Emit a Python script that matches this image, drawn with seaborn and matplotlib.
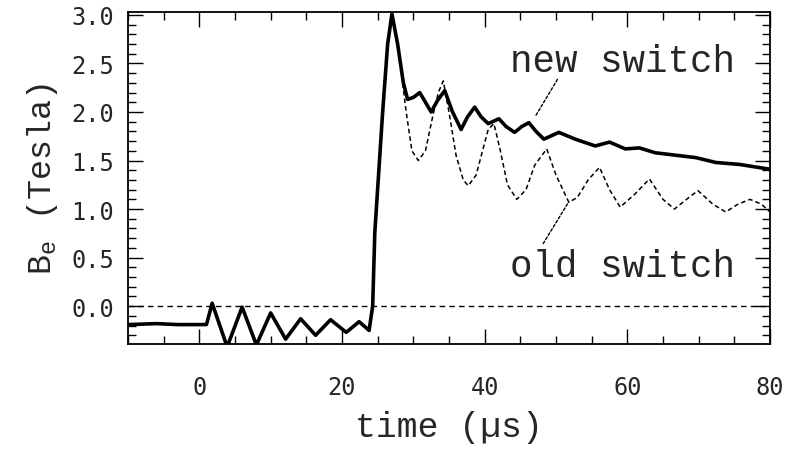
import numpy as np
import pandas as pd
import matplotlib
matplotlib.use("Agg")
import matplotlib.pyplot as plt
import seaborn as sns
from matplotlib.ticker import MultipleLocator

# ---- data ----
shared_t = [-10, -6, -3, 1.0, 1.8, 3.9, 6.0, 8.0, 10.0, 12.1, 14.2, 16.3, 18.4,
            20.6, 22.4, 23.8, 24.3, 24.6, 25.7, 26.4, 27.0]
shared_b = [-0.19, -0.18, -0.19, -0.19, 0.03, -0.42, -0.01, -0.40, -0.07, -0.34,
            -0.13, -0.30, -0.14, -0.27, -0.16, -0.25, 0.0, 0.76, 2.0, 2.7, 3.01]

new_t = [27.8, 28.6, 29.2, 30.0, 30.9, 31.7, 32.5, 33.4, 34.4, 35.5, 36.7, 37.6,
         38.6, 39.5, 40.5, 42.0, 43.0, 44.2, 45.2, 46.2, 47.2, 48.3, 50.4, 52.7,
         55.5, 57.5, 59.7, 61.7, 63.9, 67.3, 69.6, 72.4, 75.7, 80.0]
new_b = [2.7, 2.3, 2.13, 2.15, 2.2, 2.1, 2.0, 2.12, 2.22, 2.0, 1.82, 1.95,
         2.05, 1.95, 1.88, 1.93, 1.85, 1.79, 1.85, 1.89, 1.80, 1.72, 1.79, 1.72,
         1.65, 1.69, 1.62, 1.63, 1.58, 1.55, 1.53, 1.48, 1.46, 1.41]

old_t = [28.0, 29.0, 29.8, 30.7, 31.7, 32.7, 33.5, 34.2, 35.0, 36.0, 37.0, 37.7,
         38.8, 39.7, 40.5, 41.3, 42.2, 43.2, 44.5, 45.8, 47.0, 48.7, 50.0, 51.8,
         53.0, 54.5, 56.1, 57.5, 59.0, 61.0, 63.1, 65.0, 66.6, 68.3, 69.9, 72.0,
         73.8, 75.5, 77.2, 78.8, 80.0]
old_b = [2.6, 2.0, 1.6, 1.50, 1.6, 1.95, 2.2, 2.32, 2.0, 1.55, 1.3, 1.24,
         1.35, 1.6, 1.82, 1.88, 1.6, 1.25, 1.1, 1.2, 1.45, 1.62, 1.35, 1.07,
         1.12, 1.3, 1.43, 1.2, 1.02, 1.15, 1.31, 1.1, 1.0, 1.1, 1.19, 1.05,
         0.97, 1.05, 1.10, 1.05, 0.97]

x_ticks = [0, 20, 40, 60, 80]
y_ticks = [0.0, 0.5, 1.0, 1.5, 2.0, 2.5, 3.0]

df_new = pd.DataFrame({"t": shared_t + new_t, "B": shared_b + new_b})
df_old = pd.DataFrame({"t": shared_t + old_t, "B": shared_b + old_b})

sns.set_style("white")
plt.rcParams["font.family"] = ["Liberation Mono", "DejaVu Sans"]
plt.rcParams["mathtext.default"] = "regular"

fig = plt.figure(figsize=(7.93, 4.56), dpi=100)
ax = fig.add_axes([0.1614, 0.2434, 0.8096, 0.7281])

ax.axhline(0, color="black", lw=1.0, ls=(0, (4, 3)))
sns.lineplot(data=df_old, x="t", y="B", ax=ax, color="black", lw=1.1,
             linestyle=(0, (3, 2)), sort=False, estimator=None)
sns.lineplot(data=df_new, x="t", y="B", ax=ax, color="black", lw=2.6,
             sort=False, estimator=None)

ax.set_xlim(-10, 80)
ax.set_ylim(-0.39, 3.03)
ax.set_xticks(x_ticks)
ax.set_yticks(y_ticks)
ax.set_xticklabels([str(v) for v in x_ticks], family="DejaVu Sans Mono", fontsize=17)
ax.set_yticklabels([f"{v:.1f}" for v in y_ticks], family="DejaVu Sans Mono", fontsize=17)
ax.xaxis.set_minor_locator(MultipleLocator(5))
ax.yaxis.set_minor_locator(MultipleLocator(0.1))
ax.tick_params(which="both", direction="in", top=True, right=True,
               bottom=True, left=True, color="black", width=1.0)
ax.tick_params(which="major", length=11)
ax.tick_params(which="minor", length=6)
ax.tick_params(axis="x", which="major", pad=22)
ax.tick_params(axis="y", which="major", pad=10)
for s in ax.spines.values():
    s.set_color("black")
    s.set_linewidth(1.3)

ax.set_xlabel("time (\u00b5s)", fontsize=25, labelpad=8)
ax.set_ylabel(r"$\mathregular{B_e}$ (Tesla)", fontsize=24, labelpad=8)

ax.text(59.3, 2.53, "new switch", fontsize=27, ha="center", va="center")
ax.text(59.3, 0.41, "old switch", fontsize=27, ha="center", va="center")
ax.annotate("", xy=(46.9, 1.93), xytext=(50.4, 2.36),
            arrowprops=dict(arrowstyle="-", color="black", lw=1.0, ls=(0, (2, 1.5))))
ax.annotate("", xy=(52.0, 1.10), xytext=(48.0, 0.62),
            arrowprops=dict(arrowstyle="-", color="black", lw=1.0, ls=(0, (2, 1.5))))

fig.savefig("out.png", dpi=100)
